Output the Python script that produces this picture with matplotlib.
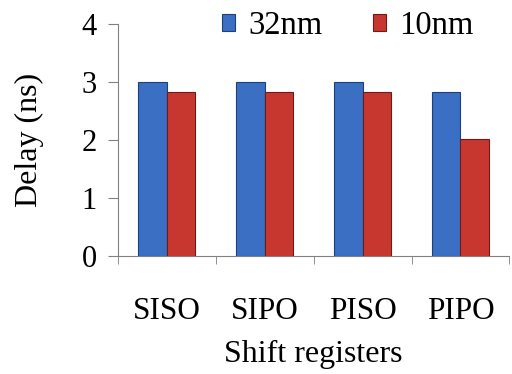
import matplotlib
matplotlib.use("Agg")
import matplotlib.pyplot as plt
import numpy as np

# data
categories = ["SISO", "SIPO", "PISO", "PIPO"]
delay_32nm = [3.0, 3.0, 3.0, 2.83]
delay_10nm = [2.83, 2.83, 2.83, 2.02]

plt.rcParams['font.family'] = ['Liberation Serif', 'DejaVu Serif']

fig = plt.figure(figsize=(5.12, 3.74), dpi=100)
ax = fig.add_axes([0.23, 0.316, 0.765, 0.62])

x = np.arange(len(categories))
w = 0.29
ax.bar(x - w / 2, delay_32nm, w, color='#3a6fc4', edgecolor='#1f3f78',
       linewidth=0.8, label='32nm')
ax.bar(x + w / 2, delay_10nm, w, color='#c8372f', edgecolor='#6e1a16',
       linewidth=0.8, label='10nm')

ax.set_xlim(-0.5, len(categories) - 0.5)
ax.set_ylim(0, 4)
ax.set_yticks([0, 1, 2, 3, 4])
ax.set_xticks(x)
ax.set_xticklabels(categories)
ax.set_xticks(np.arange(-0.5, len(categories), 1), minor=True)

ax.tick_params(axis='x', which='major', length=0, pad=30, labelsize=22.5)
ax.tick_params(axis='x', which='minor', length=6, color='#808080', direction='out')
ax.tick_params(axis='y', length=7, color='#808080', pad=8, labelsize=22)

for s in ['top', 'right']:
    ax.spines[s].set_visible(False)
for s in ['left', 'bottom']:
    ax.spines[s].set_color('#808080')

ax.set_xlabel("Shift registers", fontsize=23, labelpad=10)
ax.set_ylabel("Delay (ns)", fontsize=23, labelpad=27)

fig.legend(loc='upper center', bbox_to_anchor=(0.68, 1.05), ncol=2, frameon=False,
           fontsize=23.5, handlelength=0.4, handleheight=0.4, handletextpad=0.4,
           columnspacing=1.55)

fig.savefig("out.png", dpi=100)
